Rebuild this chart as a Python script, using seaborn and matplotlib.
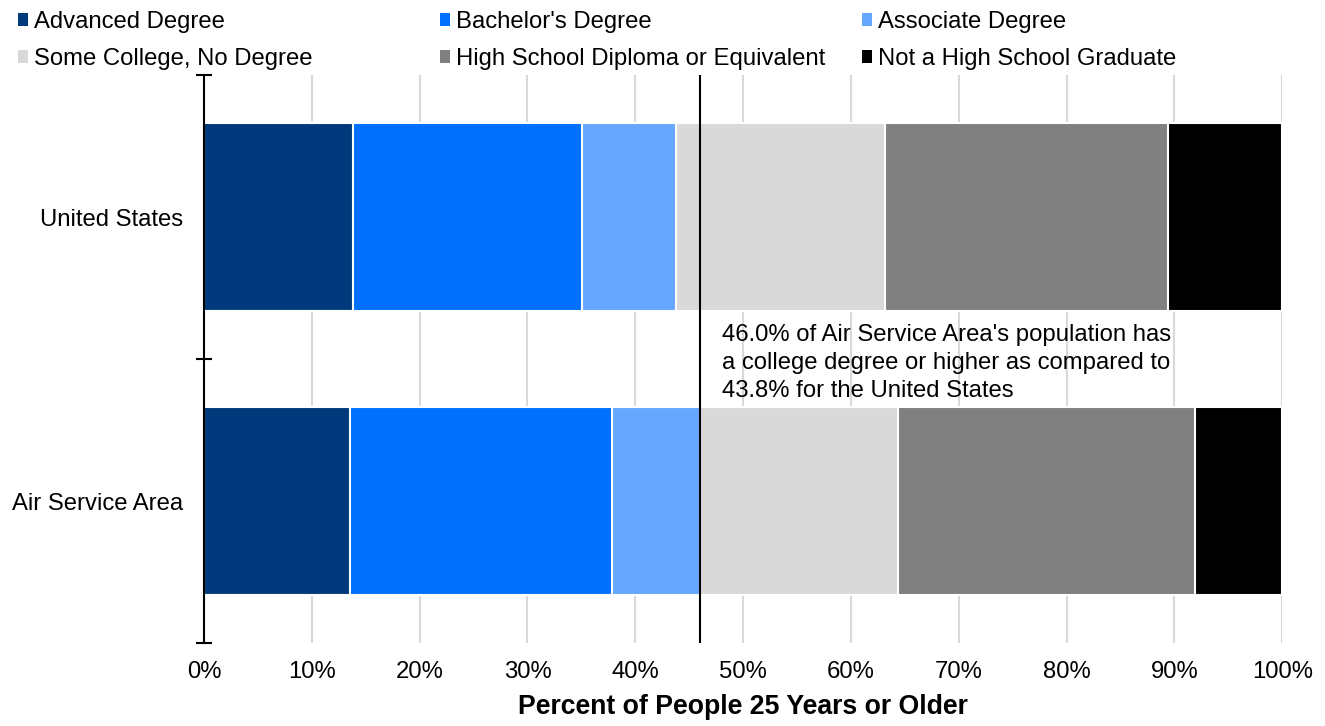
import matplotlib
matplotlib.use("Agg")
import matplotlib.pyplot as plt
import seaborn as sns
import numpy as np
import pandas as pd
from matplotlib.patches import Patch
from matplotlib.ticker import PercentFormatter

# data (percent of people 25+)
regions = ["United States", "Air Service Area"]
levels = ["Advanced Degree", "Bachelor's Degree", "Associate Degree",
          "Some College, No Degree", "High School Diploma or Equivalent",
          "Not a High School Graduate"]
us_share = [13.8, 21.3, 8.7, 19.4, 26.2, 10.6]
asa_share = [13.5, 24.3, 8.2, 18.4, 27.5, 8.1]
colors = ["#003A7D", "#0070FF", "#66A8FF", "#D9D9D9", "#808080", "#000000"]
line_value = 46.0
note = ("46.0% of Air Service Area's population has\n"
        "a college degree or higher as compared to\n"
        "43.8% for the United States")

sns.set_style("white")
plt.rcParams["font.family"] = ["Liberation Sans", "DejaVu Sans"]
plt.rcParams["text.color"] = "black"
plt.rcParams["xtick.color"] = "black"
plt.rcParams["ytick.color"] = "black"
plt.rcParams["axes.labelcolor"] = "black"
fs = 17.2

df = pd.DataFrame([us_share, asa_share], columns=levels)
cum = df[levels].cumsum(axis=1)
cum.insert(0, "region", regions)

fig = plt.figure(figsize=(13.25, 7.26), dpi=100)
ax = fig.add_axes([0.154, 0.1143, 0.8137, 0.7824])

# stacked bars: draw cumulative totals from the largest down
for lvl, col in reversed(list(zip(levels, colors))):
    sns.barplot(data=cum, x=lvl, y="region", color=col, saturation=1,
                orient="h", width=0.66, edgecolor="white", linewidth=1.5,
                ax=ax, zorder=2)

ax.axvline(line_value, color="black", lw=1.5, zorder=3)
ax.text(48.0, 0.375, note, ha="left", va="top", fontsize=fs,
        linespacing=1.37, zorder=4)

ax.set_xlim(0, 100)
ax.set_ylim(1.5, -0.5)
ax.set_xticks(np.arange(0, 101, 10))
ax.xaxis.set_major_formatter(PercentFormatter(decimals=0))
ax.xaxis.grid(True, color="#d9d9d9", lw=1.5)
ax.set_axisbelow(True)
ax.tick_params(axis="x", length=0, pad=13, labelsize=fs)
ax.tick_params(axis="y", which="major", length=0, pad=15, labelsize=fs)
ax.set_yticks([-0.5, 0.5, 1.5], minor=True)
ax.tick_params(axis="y", which="minor", left=True, length=11, width=1.5,
               direction="inout", color="black")

for s in ["top", "right", "bottom"]:
    ax.spines[s].set_visible(False)
ax.spines["left"].set_color("black")
ax.spines["left"].set_linewidth(1.5)
ax.spines["left"].set_zorder(5)

ax.set_ylabel("")
ax.set_xlabel("Percent of People 25 Years or Older", fontsize=19.2,
              fontweight="bold", labelpad=8)

# legend in three separate columns, row-wise order
handles = [Patch(facecolor=c, edgecolor="none") for c in colors]
col_x = [0.006, 0.325, 0.643]
for i, x0 in enumerate(col_x):
    fig.legend([handles[i], handles[i + 3]], [levels[i], levels[i + 3]],
               loc="upper left", bbox_to_anchor=(x0, 0.998), ncol=1,
               frameon=False, fontsize=fs, handlelength=0.42,
               handleheight=0.42, handletextpad=0.25, labelspacing=0.63,
               borderaxespad=0)

fig.savefig("out.png", dpi=100)
